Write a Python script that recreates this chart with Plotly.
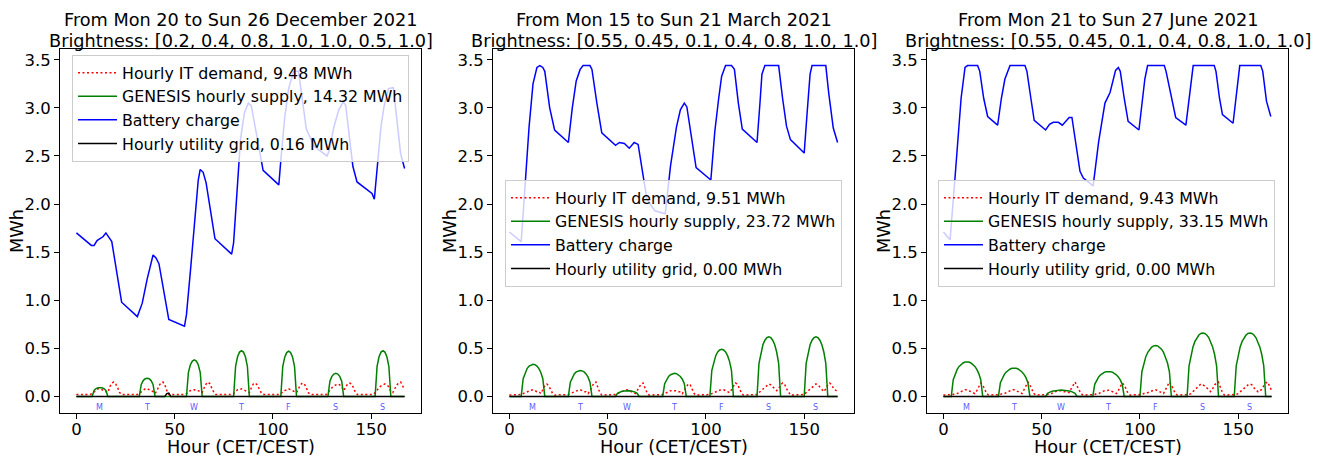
import plotly.graph_objects as go

# ---------------- data ----------------
HOURS = list(range(168))
day_letters = ["M", "T", "W", "T", "F", "S", "S"]
day_letter_hours = [12, 36, 60, 84, 108, 132, 156]
x_tick_values = [0, 50, 100, 150]
y_tick_values = [0, 0.5, 1.0, 1.5, 2.0, 2.5, 3.0, 3.5]

title_line1 = [
    "From Mon 20 to Sun 26 December 2021",
    "From Mon 15 to Sun 21 March 2021",
    "From Mon 21 to Sun 27 June 2021",
]
title_line2 = [
    "Brightness: [0.2, 0.4, 0.8, 1.0, 1.0, 0.5, 1.0]",
    "Brightness: [0.55, 0.45, 0.1, 0.4, 0.8, 1.0, 1.0]",
    "Brightness: [0.55, 0.45, 0.1, 0.4, 0.8, 1.0, 1.0]",
]
demand_totals = ["9.48", "9.51", "9.43"]
supply_totals = ["14.32", "23.72", "33.15"]
grid_totals = ["0.16", "0.00", "0.00"]

# Battery charge (MWh) read at hours
battery_dec_h = [0, 7.6, 9, 10.5, 12, 13.5, 15, 16.5, 18, 23, 31, 33.5, 36, 39, 40.5, 42, 47, 55, 56, 58, 60, 62, 63,
                 64.5, 66, 70.5, 79, 80, 83.5, 85.5, 87.5, 89, 95, 103, 104, 106, 108, 110.5, 113, 117, 121, 127.5,
                 128.5, 131, 133.5, 135.7, 137, 140.7, 142.8, 150.4, 151.6, 155, 156.6, 158.8, 161.3, 165, 167]
battery_dec = [1.70, 1.57, 1.57, 1.62, 1.64, 1.66, 1.70, 1.66, 1.61, 0.98, 0.83, 0.97, 1.22, 1.47, 1.44, 1.38, 0.80,
               0.73, 0.85, 1.30, 1.80, 2.25, 2.36, 2.33, 2.22, 1.64, 1.48, 1.60, 2.67, 2.95, 3.05, 3.02, 2.35, 2.20,
               2.45, 2.90, 3.20, 3.38, 3.38, 2.78, 2.60, 2.50, 2.55, 2.80, 2.98, 3.06, 3.03, 2.39, 2.23, 2.11, 2.05,
               2.81, 3.02, 3.20, 3.21, 2.52, 2.37]

battery_mar_h = [0, 6, 8, 10, 12, 14, 15.5, 17, 18, 20.5, 23, 30, 32, 34, 36, 37.5, 41, 42, 44.5, 47, 54, 56, 58.5,
                 61, 63.5, 65.5, 68, 70, 74, 79.3, 82, 85, 87, 89, 90.3, 92.5, 95, 102.5, 104.5, 106.5, 108, 110,
                 113, 114.5, 116.5, 118.5, 126, 127.5, 128.5, 130, 137, 139, 141, 143, 150, 151.5, 153, 154, 161,
                 162.5, 164.8, 167]
battery_mar = [1.71, 1.61, 2.20, 2.80, 3.25, 3.42, 3.44, 3.42, 3.38, 3.00, 2.77, 2.64, 3.00, 3.28, 3.40, 3.44, 3.44,
               3.40, 3.05, 2.74, 2.61, 2.64, 2.63, 2.58, 2.64, 2.62, 2.30, 2.05, 1.93, 1.90, 2.40, 2.80, 2.98, 3.05,
               3.01, 2.70, 2.38, 2.25, 2.75, 3.10, 3.33, 3.44, 3.44, 3.40, 3.05, 2.78, 2.64, 3.05, 3.35, 3.44, 3.44,
               3.10, 2.81, 2.67, 2.53, 2.95, 3.35, 3.44, 3.44, 3.15, 2.79, 2.64]

battery_jun_h = [0, 3.4, 6, 9, 11, 12.3, 17.4, 18.5, 20.5, 22.5, 27.6, 29.5, 31.3, 33.9, 41.5, 42.5, 44.5, 46.2, 52,
                 54, 55.9, 58.5, 60.5, 64, 65.4, 67.5, 69.5, 71.2, 76.2, 79, 82.2, 84.8, 87.6, 89, 90, 92, 94, 99.5,
                 101, 102.5, 103.9, 112.4, 113.3, 116, 118.2, 123.4, 125, 126.3, 127.1, 137.8, 138.7, 140.5, 142,
                 147.4, 149, 150, 150.8, 161.5, 162.5, 164.4, 166.6]
battery_jun = [1.71, 1.63, 2.30, 3.10, 3.42, 3.44, 3.44, 3.38, 3.10, 2.91, 2.82, 3.10, 3.30, 3.44, 3.44, 3.38, 3.10,
               2.87, 2.77, 2.83, 2.85, 2.85, 2.82, 2.90, 2.90, 2.60, 2.34, 2.27, 2.19, 2.65, 3.05, 3.16, 3.39, 3.42,
               3.38, 3.10, 2.86, 2.77, 3.05, 3.30, 3.44, 3.44, 3.38, 3.10, 2.90, 2.82, 3.10, 3.35, 3.44, 3.44, 3.38,
               3.10, 2.93, 2.84, 3.15, 3.35, 3.44, 3.44, 3.38, 3.07, 2.91]

# GENESIS hourly supply: first sunlit hour of each day and the hourly values of that day's arc
supply_dec_start = [9, 33, 57, 81, 105, 129, 153]
supply_dec_arcs = [
    [0.062, 0.082, 0.091, 0.094, 0.091, 0.082, 0.062],
    [0.125, 0.165, 0.184, 0.190, 0.184, 0.165, 0.125],
    [0.251, 0.330, 0.368, 0.380, 0.368, 0.330, 0.251],
    [0.314, 0.413, 0.461, 0.475, 0.461, 0.413, 0.314],
    [0.310, 0.409, 0.456, 0.470, 0.456, 0.409, 0.310],
    [0.158, 0.209, 0.233, 0.240, 0.233, 0.209, 0.158],
    [0.314, 0.413, 0.461, 0.475, 0.461, 0.413, 0.314],
]
supply_dec_extra_h = [46, 47, 48, 49, 50, 51, 52, 53, 54, 55]
supply_dec_extra = [0.006, 0.006, 0.006, 0.006, 0.006, 0.006, 0.006, 0.006, 0.006, 0.006]

supply_mar_start = [7, 31, 55, 79, 103, 127, 151]
supply_mar_arcs = [
    [0.185, 0.250, 0.290, 0.316, 0.330, 0.335, 0.330, 0.316, 0.290, 0.250, 0.185],
    [0.149, 0.201, 0.234, 0.255, 0.266, 0.270, 0.266, 0.255, 0.234, 0.201, 0.149],
    [0.033, 0.045, 0.052, 0.057, 0.059, 0.060, 0.059, 0.057, 0.052, 0.045, 0.033],
    [0.133, 0.179, 0.208, 0.226, 0.237, 0.240, 0.237, 0.226, 0.208, 0.179, 0.133],
    [0.271, 0.365, 0.424, 0.462, 0.483, 0.490, 0.483, 0.462, 0.424, 0.365, 0.271],
    [0.343, 0.462, 0.537, 0.585, 0.611, 0.620, 0.611, 0.585, 0.537, 0.462, 0.343],
    [0.343, 0.462, 0.537, 0.585, 0.611, 0.620, 0.611, 0.585, 0.537, 0.462, 0.343],
]

supply_jun_start = [5, 29, 53, 77, 101, 125, 149]
supply_jun_arcs = [
    [0.174, 0.238, 0.281, 0.312, 0.334, 0.348, 0.357, 0.360, 0.357, 0.348, 0.334, 0.312, 0.281, 0.238, 0.174],
    [0.143, 0.195, 0.230, 0.255, 0.273, 0.286, 0.293, 0.295, 0.293, 0.286, 0.273, 0.255, 0.230, 0.195, 0.143],
    [0.032, 0.044, 0.052, 0.057, 0.061, 0.064, 0.065, 0.066, 0.065, 0.064, 0.061, 0.057, 0.052, 0.044, 0.032],
    [0.126, 0.172, 0.203, 0.225, 0.241, 0.252, 0.258, 0.260, 0.258, 0.252, 0.241, 0.225, 0.203, 0.172, 0.126],
    [0.257, 0.350, 0.414, 0.459, 0.491, 0.513, 0.526, 0.530, 0.526, 0.513, 0.491, 0.459, 0.414, 0.350, 0.257],
    [0.319, 0.436, 0.515, 0.572, 0.612, 0.639, 0.655, 0.660, 0.655, 0.639, 0.612, 0.572, 0.515, 0.436, 0.319],
    [0.319, 0.436, 0.515, 0.572, 0.612, 0.639, 0.655, 0.660, 0.655, 0.639, 0.612, 0.572, 0.515, 0.436, 0.319],
]

# Hourly IT demand, one row of 24 hours per day
demand_dec = [
    [0.02, 0.02, 0.02, 0.02, 0.02, 0.02, 0.02, 0.02, 0.03, 0.05, 0.07, 0.08, 0.08, 0.07, 0.06, 0.05, 0.04, 0.10, 0.14, 0.15, 0.13, 0.09, 0.04, 0.02],
    [0.02, 0.02, 0.02, 0.02, 0.02, 0.02, 0.02, 0.02, 0.03, 0.05, 0.07, 0.08, 0.08, 0.07, 0.06, 0.05, 0.03, 0.06, 0.11, 0.14, 0.15, 0.12, 0.06, 0.02],
    [0.02, 0.02, 0.02, 0.02, 0.02, 0.02, 0.02, 0.02, 0.03, 0.05, 0.06, 0.07, 0.07, 0.06, 0.06, 0.05, 0.04, 0.09, 0.13, 0.15, 0.13, 0.08, 0.04, 0.02],
    [0.02, 0.02, 0.02, 0.02, 0.02, 0.02, 0.02, 0.02, 0.03, 0.05, 0.07, 0.07, 0.08, 0.07, 0.06, 0.05, 0.04, 0.09, 0.13, 0.14, 0.12, 0.08, 0.04, 0.02],
    [0.02, 0.02, 0.02, 0.02, 0.02, 0.02, 0.02, 0.02, 0.03, 0.05, 0.06, 0.07, 0.08, 0.07, 0.06, 0.05, 0.04, 0.08, 0.12, 0.14, 0.13, 0.09, 0.04, 0.02],
    [0.02, 0.02, 0.02, 0.02, 0.02, 0.02, 0.02, 0.02, 0.04, 0.07, 0.09, 0.11, 0.12, 0.13, 0.12, 0.10, 0.06, 0.09, 0.13, 0.14, 0.13, 0.09, 0.04, 0.02],
    [0.02, 0.02, 0.02, 0.02, 0.02, 0.02, 0.02, 0.02, 0.04, 0.07, 0.09, 0.11, 0.12, 0.13, 0.12, 0.10, 0.05, 0.04, 0.08, 0.12, 0.14, 0.15, 0.11, 0.07],
]
demand_mar = [
    [0.015, 0.015, 0.015, 0.015, 0.015, 0.015, 0.02, 0.03, 0.04, 0.05, 0.06, 0.065, 0.07, 0.06, 0.05, 0.05, 0.03, 0.07, 0.11, 0.13, 0.11, 0.07, 0.03, 0.015],
    [0.015, 0.015, 0.015, 0.015, 0.015, 0.015, 0.02, 0.03, 0.04, 0.05, 0.06, 0.065, 0.07, 0.06, 0.05, 0.05, 0.03, 0.06, 0.10, 0.14, 0.15, 0.10, 0.04, 0.015],
    [0.015, 0.015, 0.015, 0.015, 0.015, 0.015, 0.02, 0.03, 0.04, 0.05, 0.06, 0.065, 0.07, 0.06, 0.05, 0.04, 0.03, 0.06, 0.10, 0.13, 0.14, 0.09, 0.04, 0.015],
    [0.015, 0.015, 0.015, 0.015, 0.015, 0.015, 0.02, 0.03, 0.04, 0.05, 0.06, 0.06, 0.06, 0.06, 0.05, 0.05, 0.03, 0.06, 0.10, 0.13, 0.12, 0.08, 0.03, 0.015],
    [0.015, 0.015, 0.015, 0.015, 0.015, 0.015, 0.02, 0.03, 0.04, 0.05, 0.06, 0.065, 0.07, 0.07, 0.06, 0.05, 0.04, 0.07, 0.11, 0.14, 0.13, 0.08, 0.04, 0.015],
    [0.015, 0.015, 0.015, 0.015, 0.015, 0.015, 0.02, 0.04, 0.06, 0.08, 0.10, 0.12, 0.13, 0.12, 0.10, 0.08, 0.06, 0.08, 0.12, 0.14, 0.13, 0.08, 0.04, 0.015],
    [0.015, 0.015, 0.015, 0.015, 0.015, 0.015, 0.02, 0.04, 0.06, 0.08, 0.10, 0.12, 0.13, 0.12, 0.10, 0.08, 0.05, 0.08, 0.12, 0.14, 0.12, 0.08, 0.06, 0.05],
]
demand_jun = [
    [0.015, 0.015, 0.015, 0.015, 0.015, 0.02, 0.03, 0.03, 0.04, 0.05, 0.06, 0.07, 0.07, 0.06, 0.05, 0.04, 0.03, 0.06, 0.10, 0.14, 0.12, 0.07, 0.03, 0.015],
    [0.015, 0.015, 0.015, 0.015, 0.015, 0.02, 0.03, 0.03, 0.04, 0.05, 0.06, 0.07, 0.07, 0.06, 0.05, 0.04, 0.03, 0.07, 0.11, 0.15, 0.12, 0.07, 0.03, 0.015],
    [0.015, 0.015, 0.015, 0.015, 0.015, 0.02, 0.03, 0.03, 0.04, 0.05, 0.06, 0.06, 0.06, 0.05, 0.05, 0.04, 0.04, 0.08, 0.12, 0.15, 0.11, 0.06, 0.03, 0.015],
    [0.015, 0.015, 0.015, 0.015, 0.015, 0.02, 0.03, 0.03, 0.04, 0.05, 0.06, 0.06, 0.065, 0.06, 0.05, 0.04, 0.03, 0.06, 0.10, 0.14, 0.12, 0.07, 0.03, 0.015],
    [0.015, 0.015, 0.015, 0.015, 0.015, 0.02, 0.03, 0.03, 0.04, 0.05, 0.06, 0.065, 0.07, 0.06, 0.05, 0.04, 0.03, 0.07, 0.11, 0.15, 0.12, 0.07, 0.03, 0.015],
    [0.015, 0.015, 0.015, 0.015, 0.015, 0.02, 0.03, 0.05, 0.07, 0.09, 0.11, 0.13, 0.12, 0.11, 0.09, 0.07, 0.05, 0.08, 0.12, 0.14, 0.15, 0.09, 0.04, 0.015],
    [0.015, 0.015, 0.015, 0.015, 0.015, 0.02, 0.03, 0.05, 0.07, 0.09, 0.11, 0.12, 0.13, 0.12, 0.09, 0.07, 0.05, 0.05, 0.08, 0.12, 0.14, 0.15, 0.10, 0.06],
]

# Hourly utility grid (MWh) read at hours
grid_dec_h = [0, 45, 46, 47, 48, 167]
grid_dec = [0.0, 0.0, 0.03, 0.035, 0.0, 0.0]
grid_mar_h = [0, 167]
grid_mar = [0.0, 0.0]
grid_jun_h = [0, 167]
grid_jun = [0.0, 0.0]


def hourly_supply(starts, arcs, extra_h=(), extra=()):
    vals = [0.0] * 168
    for s, arc in zip(starts, arcs):
        for i, v in enumerate(arc):
            vals[s + i] = v
    for h, v in zip(extra_h, extra):
        vals[h] = v
    return vals


def flatten(rows):
    return [v for row in rows for v in row]


panels = [
    dict(battery_h=battery_dec_h, battery=battery_dec,
         supply=hourly_supply(supply_dec_start, supply_dec_arcs, supply_dec_extra_h, supply_dec_extra),
         demand=flatten(demand_dec), grid_h=grid_dec_h, grid=grid_dec),
    dict(battery_h=battery_mar_h, battery=battery_mar,
         supply=hourly_supply(supply_mar_start, supply_mar_arcs),
         demand=flatten(demand_mar), grid_h=grid_mar_h, grid=grid_mar),
    dict(battery_h=battery_jun_h, battery=battery_jun,
         supply=hourly_supply(supply_jun_start, supply_jun_arcs),
         demand=flatten(demand_jun), grid_h=grid_jun_h, grid=grid_jun),
]

# ---------------- layout geometry ----------------
# the page body keeps an 8 px margin, so the figure is drawn 8 px smaller and all positions shifted by 8 px
OFF = 8
W, H = 1325 - OFF, 458 - OFF
FONT = "DejaVu Sans"
FS_TICK = 16.5
FS_TITLE = 17.7
FS_LEG = 15.8


def px_x(p):
    return (p - OFF) / W


def px_y(p):
    return 1 - (p - OFF) / H


x_domains = [(px_x(60), px_x(421)), (px_x(493), px_x(854)), (px_x(927), px_x(1288))]
y_domain = (px_y(413), px_y(49))
label_axis_pos = px_y(409.5)   # x tick labels sit a little closer to the frame than Plotly's default
legend_pos = [(px_x(72), px_y(55)), (px_x(505), px_y(180)), (px_x(938), px_y(180))]
title_centers = [240.5, 673.5, 1107.5]
XR = [-8.35, 175.35]
YR = [-0.172, 3.612]

fig = go.Figure()
annotations = []
layout = {}

for i, p in enumerate(panels):
    n = "" if i == 0 else str(i + 1)
    xa, ya = "x" + n, "y" + n
    leg = "legend" if i == 0 else "legend" + str(i + 1)
    fig.add_trace(go.Scatter(x=HOURS, y=p["demand"], mode="lines", xaxis=xa, yaxis=ya, legend=leg,
                             name=f"Hourly IT demand, {demand_totals[i]} MWh",
                             line=dict(color="red", width=1.5, dash="2px,2.5px")))
    fig.add_trace(go.Scatter(x=HOURS, y=p["supply"], mode="lines", xaxis=xa, yaxis=ya, legend=leg,
                             name=f"GENESIS hourly supply, {supply_totals[i]} MWh",
                             line=dict(color="green", width=1.5)))
    fig.add_trace(go.Scatter(x=p["battery_h"], y=p["battery"], mode="lines", xaxis=xa, yaxis=ya, legend=leg,
                             name="Battery charge", line=dict(color="blue", width=1.5)))
    fig.add_trace(go.Scatter(x=p["grid_h"], y=p["grid"], mode="lines", xaxis=xa, yaxis=ya, legend=leg,
                             name=f"Hourly utility grid, {grid_totals[i]} MWh",
                             line=dict(color="black", width=1.5)))

    layout["xaxis" + n] = dict(domain=list(x_domains[i]), range=XR, anchor=ya, showgrid=False, zeroline=False,
                               showline=True, mirror=True, linecolor="black", linewidth=1.1,
                               ticks="outside", ticklen=5, tickwidth=1.1, tickcolor="black",
                               tickvals=x_tick_values, showticklabels=False)
    layout["yaxis" + n] = dict(domain=list(y_domain), range=YR, anchor=xa, showgrid=False, zeroline=False,
                               showline=True, mirror=True, linecolor="black", linewidth=1.1,
                               ticks="outside", ticklen=5, tickwidth=1.1, tickcolor="black",
                               tickvals=y_tick_values, tickformat=".1f",
                               tickfont=dict(family=FONT, size=FS_TICK, color="black"))
    # label-only x axis overlaying the panel's x axis
    lab = str(i + 4)
    layout["xaxis" + lab] = dict(overlaying=xa, anchor="free", position=label_axis_pos, range=XR,
                                 showgrid=False, zeroline=False, showline=False,
                                 ticks="outside", ticklen=5, tickcolor="rgba(0,0,0,0)",
                                 tickvals=x_tick_values, showticklabels=True,
                                 tickfont=dict(family=FONT, size=FS_TICK, color="black"))
    fig.add_trace(go.Scatter(x=[None], y=[None], xaxis="x" + lab, yaxis=ya, mode="lines",
                             showlegend=False, hoverinfo="skip"))

    layout[leg] = dict(x=legend_pos[i][0], y=legend_pos[i][1], xanchor="left", yanchor="top",
                       bgcolor="rgba(255,255,255,0.8)", bordercolor="#cccccc", borderwidth=1,
                       font=dict(family=FONT, size=FS_LEG, color="black"), tracegroupgap=0,
                       itemwidth=39)

    # two-line title
    annotations.append(dict(text=title_line1[i], xref="paper", yref="paper", x=px_x(title_centers[i]),
                            y=px_y(19.5), xanchor="center", yanchor="middle", showarrow=False,
                            font=dict(family=FONT, size=FS_TITLE, color="black")))
    annotations.append(dict(text=title_line2[i], xref="paper", yref="paper", x=px_x(title_centers[i]),
                            y=px_y(41), xanchor="center", yanchor="middle", showarrow=False,
                            font=dict(family=FONT, size=FS_TITLE, color="black")))
    annotations.append(dict(text="MWh", xref=xa + " domain", yref=ya + " domain", x=0, y=0.5,
                            xanchor="center", yanchor="middle", xshift=-43, textangle=-90, showarrow=False,
                            font=dict(family=FONT, size=FS_TITLE, color="black")))
    annotations.append(dict(text="Hour (CET/CEST)", xref=xa + " domain", yref=ya + " domain", x=0.5, y=0,
                            xanchor="center", yanchor="middle", yshift=-34, showarrow=False,
                            font=dict(family=FONT, size=FS_TITLE, color="black")))
    for lt, lh in zip(day_letters, day_letter_hours):
        annotations.append(dict(text=lt, xref=xa, yref=ya, x=lh, y=-0.115, xanchor="center", yanchor="middle",
                                showarrow=False, font=dict(family=FONT, size=8, color="rgba(40,40,255,0.8)")))

fig.update_layout(width=W, height=H, margin=dict(l=0, r=0, t=0, b=0), paper_bgcolor="white",
                  plot_bgcolor="white", showlegend=True, annotations=annotations, **layout)

fig.write_html("out.html")
